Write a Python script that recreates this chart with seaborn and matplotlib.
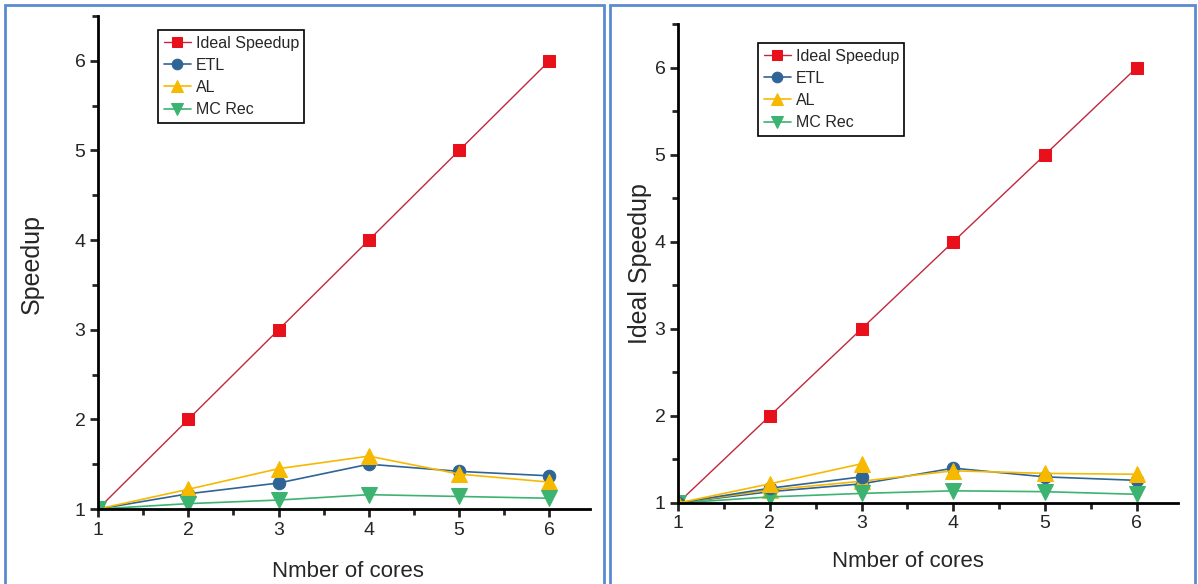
import matplotlib
matplotlib.use("Agg")
import matplotlib.pyplot as plt
from matplotlib.patches import Rectangle
from matplotlib.ticker import MultipleLocator
import seaborn as sns

# datos
cores = [1, 2, 3, 4, 5, 6]
ideal = [1, 2, 3, 4, 5, 6]

etl_left = [1.00, 1.17, 1.29, 1.50, 1.42, 1.37]
al_left = [1.00, 1.22, 1.45, 1.59, 1.39, 1.30]
mc_left = [1.00, 1.06, 1.10, 1.16, 1.14, 1.12]

etl_right = [1.00, 1.13, 1.22, 1.40, 1.30, 1.26]
al_right = [1.00, 1.15, 1.25, 1.37, 1.34, 1.33]
mc_right = [1.00, 1.07, 1.11, 1.14, 1.13, 1.10]

# trazos duplicados que aparecen en el panel derecho
cores_dup = [1, 2, 3]
etl_right_dup = [1.00, 1.17, 1.30]
al_right_dup = [1.00, 1.22, 1.45]

labels = ["Ideal Speedup", "ETL", "AL", "MC Rec"]

sns.set_style("white")
plt.rcParams['font.family'] = ['Liberation Sans', 'DejaVu Sans']

RED_LINE = "#c0283c"
RED = "#e8101a"
BLUE = "#2f6496"
YELLOW = "#f7b900"
GREEN = "#3cb371"


def estilo_eje(ax):
    for s in ["top", "right"]:
        ax.spines[s].set_visible(False)
    for s in ["left", "bottom"]:
        ax.spines[s].set_linewidth(2)
        ax.spines[s].set_color("black")
    ax.set_xlim(1, 6.45)
    ax.set_ylim(1, 6.5)
    ax.xaxis.set_major_locator(MultipleLocator(1))
    ax.xaxis.set_minor_locator(MultipleLocator(0.5))
    ax.yaxis.set_major_locator(MultipleLocator(1))
    ax.yaxis.set_minor_locator(MultipleLocator(0.5))
    ax.tick_params(which="major", direction="out", length=6, width=2,
                   labelsize=14, left=True, bottom=True, pad=3)
    ax.tick_params(which="minor", direction="out", length=4, width=2,
                   left=True, bottom=True)


def dibuja(ax, etl, al, mc):
    sns.lineplot(x=cores, y=ideal, ax=ax, color=RED_LINE, lw=1, marker="s",
                 markersize=8, markerfacecolor=RED, markeredgecolor=RED, label=labels[0])
    sns.lineplot(x=cores, y=etl, ax=ax, color=BLUE, lw=1.2, marker="o",
                 markersize=9, markerfacecolor=BLUE, markeredgecolor=BLUE, label=labels[1])
    sns.lineplot(x=cores, y=al, ax=ax, color=YELLOW, lw=1.2, marker="^",
                 markersize=11, markerfacecolor=YELLOW, markeredgecolor=YELLOW, label=labels[2])
    sns.lineplot(x=cores, y=mc, ax=ax, color=GREEN, lw=1.2, marker="v",
                 markersize=11, markerfacecolor=GREEN, markeredgecolor=GREEN, label=labels[3])


def leyenda(ax, x_px, y_px):
    leg = ax.legend(loc="upper left", bbox_to_anchor=(x_px / 1198, 1 - y_px / 584),
                    bbox_transform=fig.transFigure, borderaxespad=0, fontsize=11.5,
                    frameon=True, fancybox=False, edgecolor="black", framealpha=1,
                    handlelength=1.7, handletextpad=0.3, labelspacing=0.45,
                    borderpad=0.35, markerscale=0.85)
    leg.get_frame().set_linewidth(1.2)


fig = plt.figure(figsize=(11.98, 5.84), dpi=100)

# Panel izquierdo
ax1 = fig.add_axes([0.0818, 0.1284, 0.4107, 0.8442])
dibuja(ax1, etl_left, al_left, mc_left)
estilo_eje(ax1)
ax1.set_xlabel("Nmber of cores", fontsize=16)
ax1.set_ylabel("Speedup", fontsize=18)
ax1.xaxis.set_label_coords(0.508, -0.106)
ax1.yaxis.set_label_coords(-0.11, 0.496)
leyenda(ax1, 158, 30)

# Panel derecho
ax2 = fig.add_axes([0.566, 0.1387, 0.4174, 0.8202])
dibuja(ax2, etl_right, al_right, mc_right)
sns.lineplot(x=cores_dup, y=etl_right_dup, ax=ax2, color=BLUE, lw=1.2, marker="o",
             markersize=9, markerfacecolor=BLUE, markeredgecolor=BLUE, legend=False)
sns.lineplot(x=cores_dup, y=al_right_dup, ax=ax2, color=YELLOW, lw=1.2, marker="^",
             markersize=11, markerfacecolor=YELLOW, markeredgecolor=YELLOW, legend=False)
estilo_eje(ax2)
ax2.set_xlabel("Nmber of cores", fontsize=16)
ax2.set_ylabel("Ideal Speedup", fontsize=18)
ax2.xaxis.set_label_coords(0.46, -0.1)
ax2.yaxis.set_label_coords(-0.053, 0.5)
leyenda(ax2, 758, 43)

# Marcos azules de cada panel
for x0, x1 in [(5, 604), (610, 1195)]:
    fig.patches.append(Rectangle((x0 / 1198, -0.05), (x1 - x0) / 1198, 1.05 - 5 / 584,
                                 transform=fig.transFigure, fill=False,
                                 edgecolor="#5b8bd0", linewidth=2))

plt.savefig("out.png", dpi=100)
